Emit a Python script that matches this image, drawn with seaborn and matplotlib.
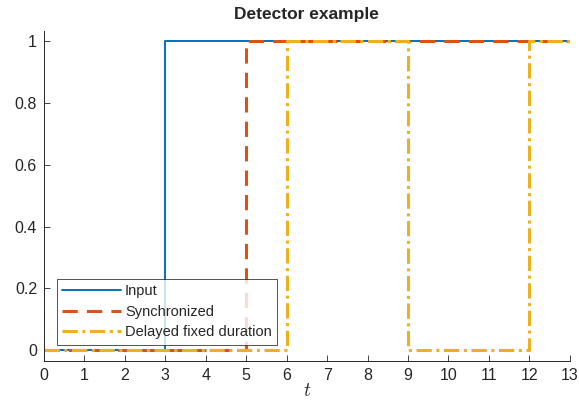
import matplotlib
matplotlib.use("Agg")
import matplotlib.pyplot as plt
import seaborn as sns
import pandas as pd
import numpy as np

# Data
t_input = [0, 3, 13]
v_input = [0, 1, 1]
t_sync = [0, 5, 13]
v_sync = [0, 1, 1]
t_delay = [0, 6, 9, 12, 13]
v_delay = [0, 1, 0, 1, 1]
x_ticks = list(range(0, 14))
y_ticks = [0, 0.2, 0.4, 0.6, 0.8, 1]

sns.set_style("white")
plt.rcParams['font.family'] = ['Liberation Sans', 'DejaVu Sans']
plt.rcParams['mathtext.fontset'] = 'cm'

fig = plt.figure(figsize=(5.79, 4.08), dpi=100)
ax = fig.add_axes([0.076, 0.115, 0.908, 0.81])

colors = ['#0072BD', '#D95319', '#EDB120']
sns.lineplot(x=t_input, y=v_input, ax=ax, drawstyle='steps-post', color=colors[0],
             lw=1.4, label='Input')
sns.lineplot(x=t_sync, y=v_sync, ax=ax, drawstyle='steps-post', color=colors[1],
             lw=2.2, linestyle=(0, (5, 3)), label='Synchronized')
sns.lineplot(x=t_delay, y=v_delay, ax=ax, drawstyle='steps-post', color=colors[2],
             lw=2.2, linestyle=(0, (5, 1.5, 1, 1.5)), label='Delayed fixed duration')

ax.set_xlim(0, 13)
ax.set_ylim(-0.035, 1.035)
ax.set_xticks(x_ticks)
ax.set_yticks(y_ticks)
ax.set_yticklabels(['0', '0.2', '0.4', '0.6', '0.8', '1'])
ax.tick_params(direction='in', length=4, labelsize=11.5, colors='#262626', width=0.6,
               bottom=True, left=True, pad=5)
for s in ['top', 'right']:
    ax.spines[s].set_visible(False)
for s in ['left', 'bottom']:
    ax.spines[s].set_color('#262626')
    ax.spines[s].set_linewidth(0.7)
ax.set_xlabel('$t$', fontsize=14, labelpad=0)
ax.set_ylabel('')
ax.set_title('Detector example', fontsize=12.5, fontweight='bold', pad=8)

leg = ax.legend(loc='lower left', bbox_to_anchor=(0.025, 0.05), fontsize=10.5,
                frameon=True, fancybox=False, edgecolor='#262626',
                handlelength=4.0, handletextpad=0.3, borderpad=0.35,
                labelspacing=0.45, borderaxespad=0)
leg.get_frame().set_linewidth(0.7)

fig.savefig('out.png', dpi=100)
